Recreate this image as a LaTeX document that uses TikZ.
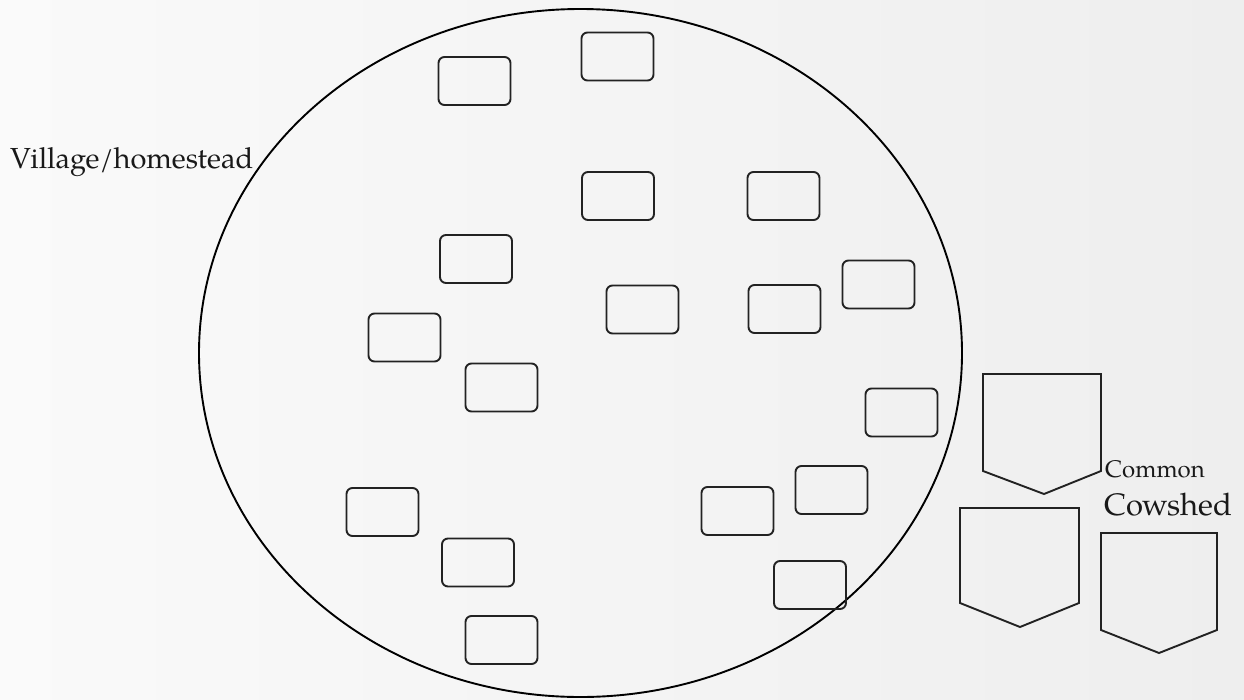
\documentclass[tikz,border=0pt]{standalone}
\usepackage{fontspec}
\setmainfont{TeX Gyre Pagella}
\usetikzlibrary{shapes.geometric}
\definecolor{bgleft}{HTML}{FAFAFA}
\definecolor{bgright}{HTML}{EEEEEE}
\definecolor{ink}{HTML}{222222}
\tikzset{
  hut/.style={draw=ink, line width=1.9pt, rounded corners=6pt, minimum width=72pt, minimum height=48pt, inner sep=0pt},
  shed/.style={draw=ink, line width=1.9pt, line join=miter},
  lbl/.style={inner sep=0pt, anchor=base west, text=black!90},
}
\begin{document}
\begin{tikzpicture}[x=1pt,y=-1pt]
\shade[left color=bgleft, right color=bgright] (0,0) rectangle (1244,699);
\useasboundingbox (0,0) rectangle (1244,699);
% village boundary
\node[draw=black, line width=1.9pt, ellipse, inner sep=0pt, minimum width=763pt, minimum height=688pt] (village) at (580.5,353) {};
\node[lbl, font=\fontsize{29}{30}\selectfont] (vlabel) at (10,168) {Village/homestead};
% homesteads
\node[hut] (b1) at (474.5,81) {};
\node[hut] (b2) at (617.5,56.5) {};
\node[hut] (b3) at (618,196) {};
\node[hut] (b4) at (783.5,196) {};
\node[hut] (b5) at (642.5,309.5) {};
\node[hut] (b6) at (784.5,309) {};
\node[hut] (b7) at (878.5,284.5) {};
\node[hut] (b8) at (476,259) {};
\node[hut] (b9) at (404.5,337.5) {};
\node[hut] (b10) at (501.5,387.5) {};
\node[hut] (b11) at (382.5,512) {};
\node[hut] (b12) at (478,562.5) {};
\node[hut] (b13) at (501.5,640) {};
\node[hut] (b14) at (737.5,511) {};
\node[hut] (b15) at (810,585) {};
\node[hut] (b16) at (831.5,490) {};
\node[hut] (b17) at (901.5,412.5) {};
% common cowsheds
\draw[shed] (983,374) -- (1101,374) -- (1101,471) -- (1044,494) -- (983,471) -- cycle;
\draw[shed] (960,508) -- (1079,508) -- (1079,603) -- (1020,627) -- (960,603) -- cycle;
\draw[shed] (1101,533) -- (1217,533) -- (1217,630) -- (1159,653) -- (1101,630) -- cycle;
\node[lbl, font=\fontsize{24}{25}\selectfont] (common) at (1105,477) {Common};
\node[lbl, font=\fontsize{31}{32}\selectfont] (cowshed) at (1104,515) {Cowshed};
\end{tikzpicture}
\end{document}
